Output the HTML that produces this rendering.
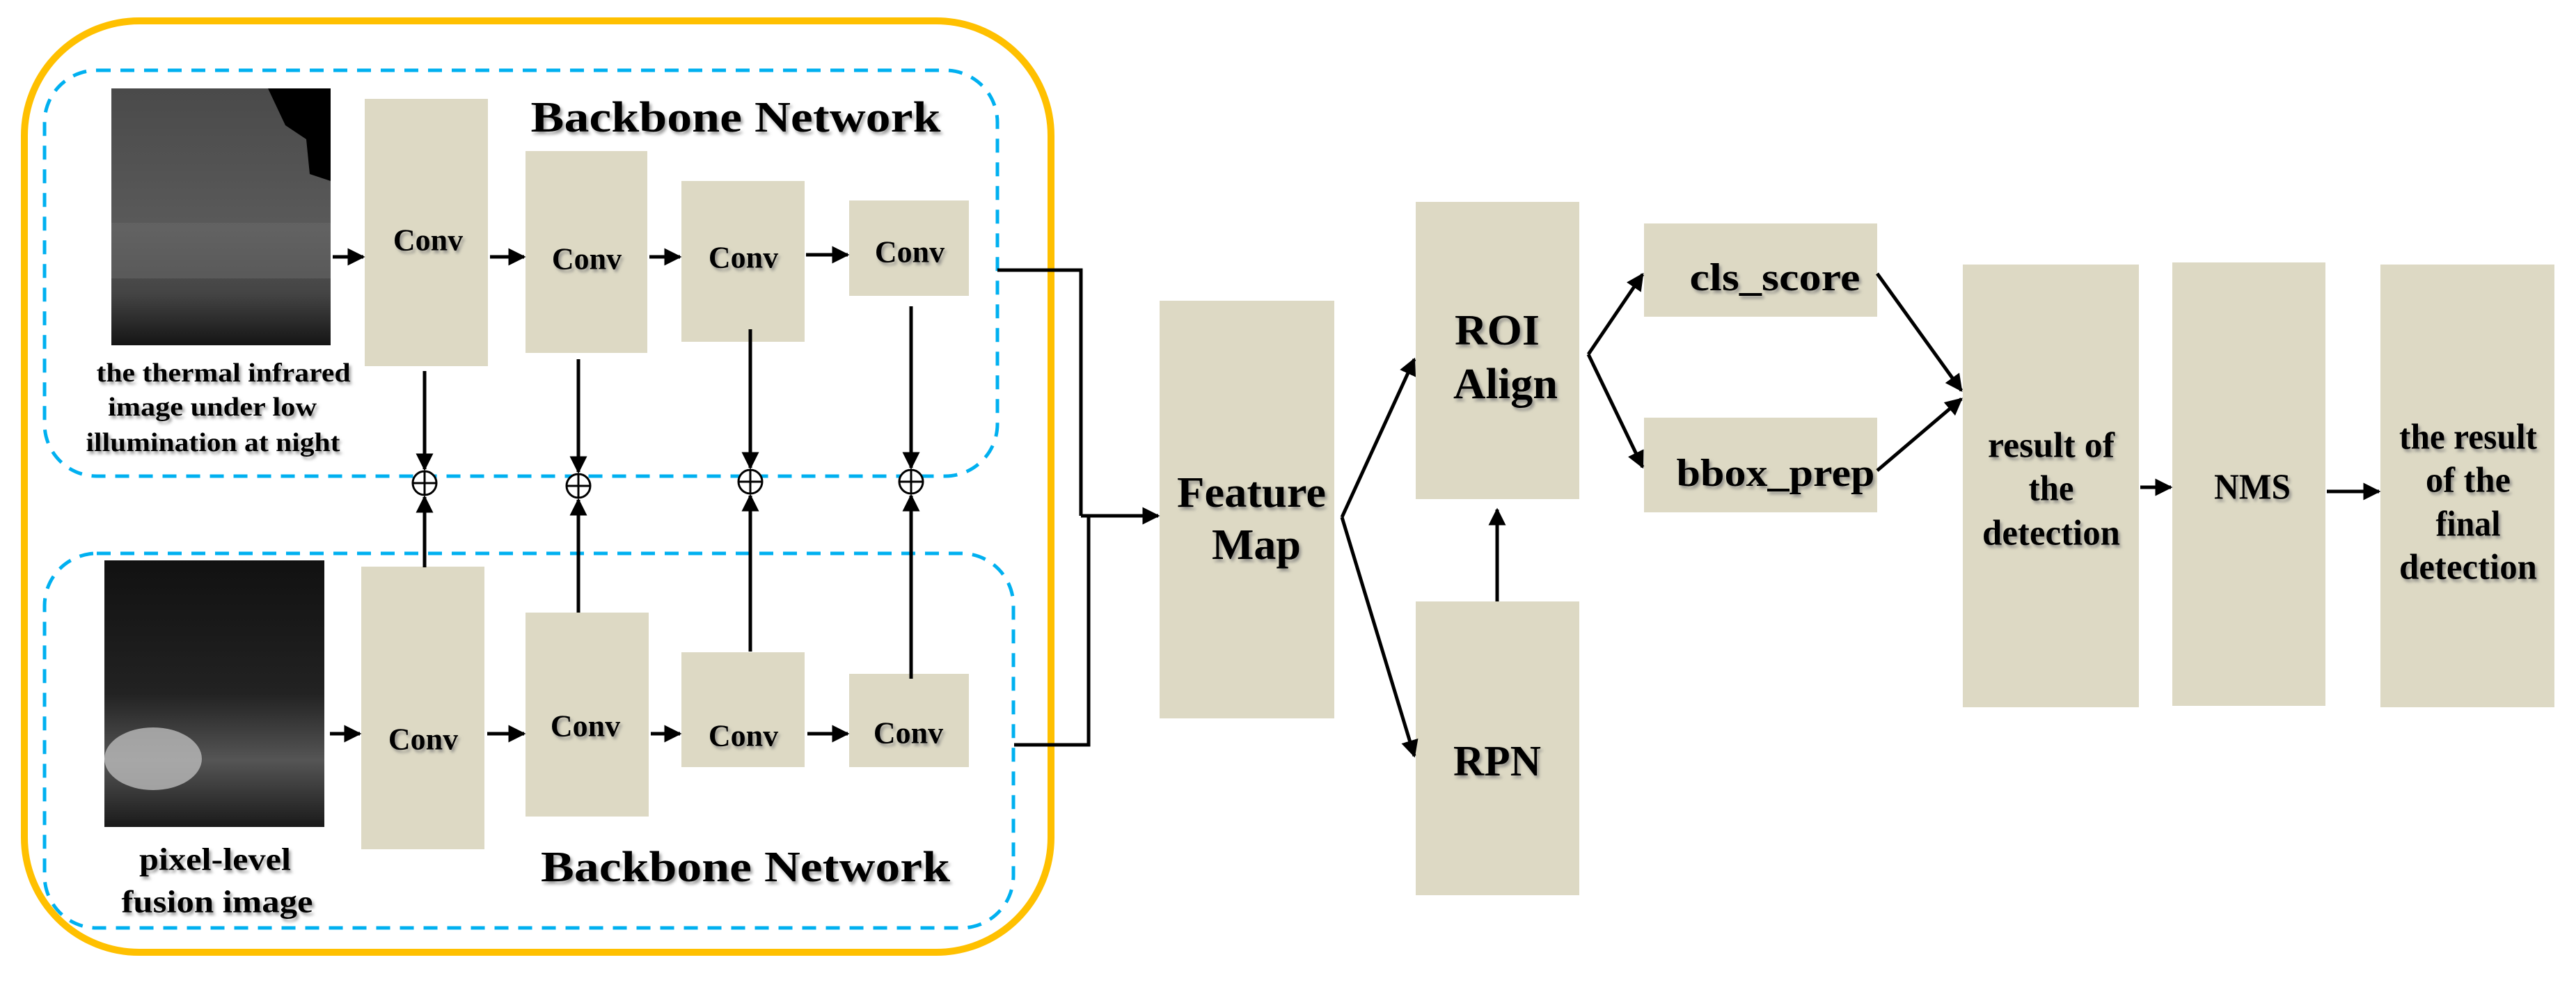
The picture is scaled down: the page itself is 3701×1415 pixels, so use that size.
<!DOCTYPE html>
<html><head><meta charset="utf-8"><style>html,body{margin:0;padding:0;background:#fff}svg{display:block}
svg text{font-family:"Liberation Serif",serif;font-weight:bold}</style></head>
<body>
<svg width="3701" height="1415" viewBox="0 0 3701 1415" xmlns="http://www.w3.org/2000/svg" style="font-family:'Liberation Serif',serif;font-weight:bold">
<defs>
<marker id="a" viewBox="0 0 10 10" refX="9" refY="5" markerWidth="5" markerHeight="5" orient="auto" markerUnits="strokeWidth"><path d="M0,0 L10,5 L0,10 z" fill="#000"/></marker>
<filter id="s" x="-10%" y="-10%" width="130%" height="130%"><feDropShadow dx="3" dy="4" stdDeviation="2" flood-color="#777" flood-opacity="0.7"/></filter>
<linearGradient id="g1" x1="0" y1="0" x2="0" y2="1"><stop offset="0" stop-color="#4a4a4a"/><stop offset="0.55" stop-color="#5a5a5a"/><stop offset="0.8" stop-color="#444"/><stop offset="1" stop-color="#151515"/></linearGradient>
<linearGradient id="g2" x1="0" y1="0" x2="0" y2="1"><stop offset="0" stop-color="#111"/><stop offset="0.5" stop-color="#222"/><stop offset="0.75" stop-color="#555"/><stop offset="1" stop-color="#1a1a1a"/></linearGradient>
</defs>
<rect x="35" y="30" width="1475" height="1338" rx="165" fill="none" stroke="#FFC000" stroke-width="10"/>
<rect x="64" y="101" width="1369" height="583" rx="75" fill="none" stroke="#00B0F0" stroke-width="5" stroke-dasharray="20 14"/>
<rect x="64" y="795" width="1392" height="538" rx="75" fill="none" stroke="#00B0F0" stroke-width="5" stroke-dasharray="20 14"/>
<rect x="160" y="127" width="315" height="369" fill="url(#g1)"/>
<polygon points="385,127 475,127 475,260 445,250 440,200 410,180" fill="#000"/>
<rect x="160" y="320" width="315" height="80" fill="#6a6a6a" opacity="0.5"/>
<rect x="150" y="805" width="316" height="383" fill="url(#g2)"/>
<ellipse cx="220" cy="1090" rx="70" ry="45" fill="#bbb" opacity="0.8"/>
<g fill="#DDD9C4">
<rect x="524" y="142" width="177" height="384"/><rect x="755" y="217" width="175" height="290"/><rect x="979" y="260" width="177" height="231"/><rect x="1220" y="288" width="172" height="137"/>
<rect x="519" y="814" width="177" height="406"/><rect x="755" y="880" width="177" height="293"/><rect x="979" y="937" width="177" height="165"/><rect x="1220" y="968" width="172" height="134"/>
<rect x="1666" y="432" width="251" height="600"/><rect x="2034" y="290" width="235" height="427"/><rect x="2034" y="864" width="235" height="422"/>
<rect x="2362" y="321" width="335" height="134"/><rect x="2362" y="600" width="335" height="136"/>
<rect x="2820" y="380" width="253" height="636"/><rect x="3121" y="377" width="220" height="637"/><rect x="3420" y="380" width="250" height="636"/>
</g>
<g stroke="#000" stroke-width="5" fill="none" marker-end="url(#a)">
<line x1="478" y1="369" x2="522" y2="369"/><line x1="704" y1="369" x2="753" y2="369"/><line x1="933" y1="369" x2="977" y2="369"/><line x1="1158" y1="366" x2="1218" y2="366"/>
<line x1="474" y1="1054" x2="517" y2="1054"/><line x1="700" y1="1054" x2="753" y2="1054"/><line x1="935" y1="1054" x2="977" y2="1054"/><line x1="1160" y1="1054" x2="1218" y2="1054"/>
<line x1="610" y1="533" x2="610" y2="674"/><line x1="831" y1="516" x2="831" y2="678"/><line x1="1078" y1="473" x2="1078" y2="672"/><line x1="1309" y1="440" x2="1309" y2="672"/>
<line x1="610" y1="815" x2="610" y2="714"/><line x1="831" y1="880" x2="831" y2="718"/><line x1="1078" y1="936" x2="1078" y2="712"/><line x1="1309" y1="975" x2="1309" y2="712"/>
<line x1="1553" y1="741" x2="1664" y2="741"/>
<line x1="1928" y1="743" x2="2032" y2="516"/><line x1="1928" y1="743" x2="2032" y2="1086"/>
<line x1="2151" y1="864" x2="2151" y2="732"/>
<line x1="2282" y1="509" x2="2360" y2="394"/><line x1="2282" y1="509" x2="2360" y2="671"/>
<line x1="2697" y1="393" x2="2818" y2="561"/><line x1="2697" y1="676" x2="2818" y2="573"/>
<line x1="3075" y1="700" x2="3119" y2="700"/><line x1="3343" y1="706" x2="3418" y2="706"/>
</g>
<g stroke="#000" stroke-width="5" fill="none">
<polyline points="1433,388 1553,388 1553,741"/><polyline points="1457,1070 1564,1070 1564,741"/>
</g>
<g stroke="#000" stroke-width="3" fill="#fff">
<circle cx="610" cy="694" r="17"/><circle cx="831" cy="698" r="17"/><circle cx="1078" cy="692" r="17"/><circle cx="1309" cy="692" r="17"/>
</g>
<g stroke="#000" stroke-width="3">
<line x1="593" y1="694" x2="627" y2="694"/><line x1="610" y1="677" x2="610" y2="711"/>
<line x1="814" y1="698" x2="848" y2="698"/><line x1="831" y1="681" x2="831" y2="715"/>
<line x1="1061" y1="692" x2="1095" y2="692"/><line x1="1078" y1="675" x2="1078" y2="709"/>
<line x1="1292" y1="692" x2="1326" y2="692"/><line x1="1309" y1="675" x2="1309" y2="709"/>
</g>
<g fill="#000" text-anchor="middle" dominant-baseline="central" filter="url(#s)" style="font-family:'Liberation Serif',serif;font-weight:bold">
<text x="615" y="345" font-size="44">Conv</text><text x="843" y="372" font-size="44">Conv</text><text x="1068" y="370" font-size="44">Conv</text><text x="1307" y="362" font-size="44">Conv</text>
<text x="608" y="1062" font-size="44">Conv</text><text x="841" y="1043" font-size="44">Conv</text><text x="1068" y="1057" font-size="44">Conv</text><text x="1305" y="1053" font-size="44">Conv</text>
<text x="1057" y="169" font-size="62" textLength="589" lengthAdjust="spacingAndGlyphs">Backbone Network</text>
<text x="1071" y="1246" font-size="62" textLength="588" lengthAdjust="spacingAndGlyphs">Backbone Network</text>
<text x="321" y="536" font-size="38" textLength="365" lengthAdjust="spacingAndGlyphs">the thermal infrared</text>
<text x="305" y="585" font-size="38" textLength="300" lengthAdjust="spacingAndGlyphs">image under low</text>
<text x="306" y="636" font-size="38" textLength="365" lengthAdjust="spacingAndGlyphs">illumination at night</text>
<text x="309" y="1234" font-size="46" textLength="218" lengthAdjust="spacingAndGlyphs">pixel-level</text>
<text x="312" y="1295" font-size="46" textLength="275" lengthAdjust="spacingAndGlyphs">fusion image</text>
<text x="1798" y="708" font-size="62" textLength="214" lengthAdjust="spacingAndGlyphs">Feature</text>
<text x="1805" y="783" font-size="62" textLength="128" lengthAdjust="spacingAndGlyphs">Map</text>
<text x="2151" y="475" font-size="62" textLength="122" lengthAdjust="spacingAndGlyphs">ROI</text>
<text x="2163" y="552" font-size="62" textLength="150" lengthAdjust="spacingAndGlyphs">Align</text>
<text x="2151" y="1094" font-size="62" textLength="126" lengthAdjust="spacingAndGlyphs">RPN</text>
<text x="2550" y="399" font-size="56" textLength="245" lengthAdjust="spacingAndGlyphs">cls_score</text>
<text x="2551" y="680" font-size="56" textLength="285" lengthAdjust="spacingAndGlyphs">bbox_prep</text>
<text x="2947" y="640" font-size="52" textLength="182" lengthAdjust="spacingAndGlyphs">result  of</text>
<text x="2947" y="702" font-size="52" textLength="65" lengthAdjust="spacingAndGlyphs">the</text>
<text x="2947" y="766" font-size="52" textLength="198" lengthAdjust="spacingAndGlyphs">detection</text>
<text x="3236" y="700" font-size="52" textLength="110" lengthAdjust="spacingAndGlyphs">NMS</text>
<text x="3546" y="628" font-size="52" textLength="198" lengthAdjust="spacingAndGlyphs">the result</text>
<text x="3546" y="690" font-size="52" textLength="122" lengthAdjust="spacingAndGlyphs">of the</text>
<text x="3546" y="753" font-size="52" textLength="93" lengthAdjust="spacingAndGlyphs">final</text>
<text x="3546" y="815" font-size="52" textLength="198" lengthAdjust="spacingAndGlyphs">detection</text>
</g>
</svg>
</body></html>
